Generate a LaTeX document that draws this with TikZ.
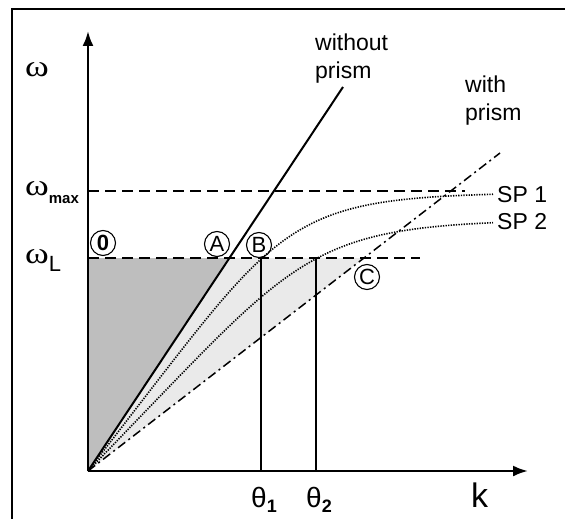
\documentclass[tikz,border=0pt]{standalone}
\usepackage{fontspec}
\setmainfont{Liberation Sans}
\newfontfamily\grk{Liberation Serif}
\usetikzlibrary{arrows.meta,positioning}
\definecolor{darkfill}{HTML}{BEBEBE}
\definecolor{lightfill}{HTML}{EAEAEA}
\newcommand{\om}{\scalebox{1.2}[1]{\grk\fontsize{30}{30}\selectfont\char"03C9}}

\begin{document}
\begin{tikzpicture}[x=1pt,y=-1pt,
  axis/.style={line width=2.4pt,-{Latex[length=15pt,width=11pt]}},
  guide/.style={line width=1.2pt,dash pattern=on 11pt off 6pt},
  curve/.style={line width=1.6pt,dash pattern=on 1.3pt off 1.3pt},
  prism/.style={line width=1.5pt,dash pattern=on 9pt off 4pt on 2pt off 4pt},
  theta/.style={line width=1.2pt},
  tag/.style={draw,circle,line width=1.1pt,inner sep=0pt,minimum size=25pt,font=\fontsize{22}{22}\selectfont},
  lbl/.style={font=\fontsize{23}{28}\selectfont,align=left,inner sep=0pt}
]
\useasboundingbox (0,0) rectangle (565,519);
\draw[line width=2pt] (12,519) -- (12,9) -- (565,9);

\coordinate (O) at (88,471);
\coordinate (ytip) at (88,31);
\coordinate (xtip) at (528,471);
\coordinate (wmax0) at (88,191);
\coordinate (wmax1) at (465,191);
\coordinate (wL0) at (88,258);
\coordinate (wL1) at (420,258);
\coordinate (pA) at (229.4,258);
\coordinate (pC) at (364,258);
\coordinate (free) at (343,87);
\coordinate (with) at (500,153);
\coordinate (th1) at (261,471);
\coordinate (th1t) at (261,258);
\coordinate (th2) at (316,471);
\coordinate (th2t) at (316,258);

\fill[darkfill] (O) -- (wL0) -- (pA) -- cycle;
\fill[lightfill] (O) -- (pA) -- (pC) -- cycle;

\draw[guide] (wmax0) -- (wmax1);
\draw[guide] (wL0) -- (wL1);
\draw[theta] (th1) -- (th1t);
\draw[theta] (th2) -- (th2t);
\draw[line width=2pt] (O) -- (free);
\draw[prism] (O) -- (with);
\draw[curve] plot[domain=0:405,samples=90] ({88+\x},{471-279*(\x/215)/(1+(\x/215)^5)^0.2});
\draw[curve] plot[domain=0:405,samples=90] ({88+\x},{471-252*(\x/242.5)/(1+(\x/242.5)^5)^0.2});
\draw[axis] (O) -- (ytip);
\draw[axis] (O) -- (xtip);

\node[inner sep=0pt,anchor=base west] (w) at (25,77) {\om};
\node[inner sep=0pt,anchor=base west] (wmax) at (25,195) {\om\raisebox{-8pt}{\fontsize{15}{15}\selectfont\bfseries max}};
\node[inner sep=0pt,anchor=base west] (wL) at (25,263) {\om\raisebox{-8pt}{\fontsize{22}{22}\selectfont L}};

\node[tag,font=\fontsize{22}{22}\selectfont\bfseries] (c0) at (103,243) {0};
\node[tag] (cA) at (217,244) {A};
\node[tag] (cB) at (259,245) {B};
\node[tag] (cC) at (367,277) {C};

\node[lbl,anchor=base west] (nolbl) at (315,78) {without\\prism};
\node[lbl,anchor=base west] (wilbl) at (465,120) {with\\prism};
\node[lbl,anchor=base west] (sp1) at (497,202) {SP 1};
\node[lbl,anchor=base west] (sp2) at (497,229) {SP 2};

\node[inner sep=0pt,anchor=base west,font=\fontsize{28}{28}\selectfont] (t1) at (251,507) {θ\raisebox{-5pt}{\fontsize{18}{18}\selectfont\bfseries 1}};
\node[inner sep=0pt,anchor=base west,font=\fontsize{28}{28}\selectfont] (t2) at (306,507) {θ\raisebox{-5pt}{\fontsize{18}{18}\selectfont\bfseries 2}};
\node[inner sep=0pt,anchor=base west,font=\fontsize{34}{34}\selectfont] (k) at (471,507) {k};
\end{tikzpicture}
\end{document}
